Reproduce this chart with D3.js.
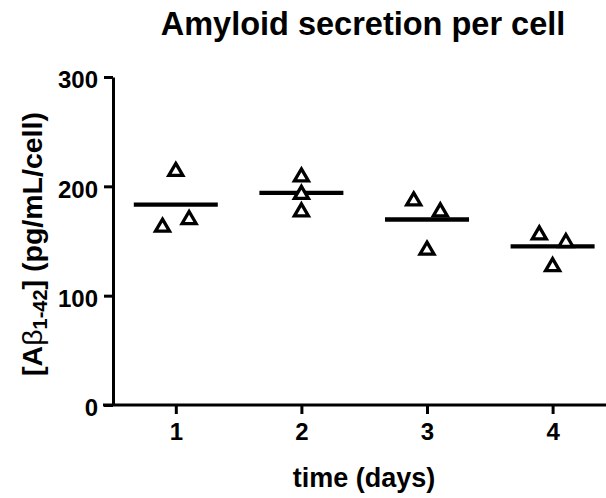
<!DOCTYPE html>
<html>
<head>
<meta charset="utf-8">
<script src="https://cdn.jsdelivr.net/npm/d3@7"></script>
<style>
  body { margin: 0; background: #fff; }
  text { font-family: "Liberation Sans", Arial, sans-serif; font-weight: bold; fill: #000; }
</style>
</head>
<body>
<div id="chart-area"></div>
<script>
// data
var days = [1, 2, 3, 4];
var day1 = [215, 164, 171];
var day2 = [210, 194, 178];
var day3 = [188, 178, 143];
var day4 = [157, 150, 128];
// horizontal spread of the points in each column (GraphPad style scatter)
var spread = [[0, -1, 1], [0, 0, 0], [-1, 1, 0], [-1, 1, 0]];
var yTicks = [0, 100, 200, 300];

var width = 606, height = 498;
var margin = { left: 113, top: 77, bottom: 93 };

var svg = d3.select("#chart-area")
    .append("svg")
        .attr("width", width)
        .attr("height", height);

// Scales
var x = d3.scaleLinear()
    .domain([0.5, 4.5])
    .range([margin.left, margin.left + 4 * 125.6]);
var y = d3.scaleLinear()
    .domain([0, 300])
    .range([height - margin.bottom, margin.top]);

var series = [day1, day2, day3, day4];
var points = [];
series.forEach(function(vals, i) {
    vals.forEach(function(v, j) {
        points.push({ day: days[i], value: v, off: spread[i][j] });
    });
});

// X Axis
var xAxis = svg.append("g")
    .attr("transform", "translate(0," + y(0) + ")")
    .call(d3.axisBottom(x).tickValues(days).tickFormat(d3.format("d"))
        .tickSize(9).tickPadding(9).tickSizeOuter(0));
xAxis.select(".domain").attr("d", "M" + (margin.left - 10) + ",0H" + x(4.5))
    .attr("stroke-width", 3);
xAxis.selectAll(".tick line").attr("stroke-width", 3);
xAxis.selectAll(".tick text").attr("font-size", "24px");

// Y Axis
var yAxis = svg.append("g")
    .attr("transform", "translate(" + margin.left + ",0)")
    .call(d3.axisLeft(y).tickValues(yTicks).tickSize(9).tickPadding(6).tickSizeOuter(0));
yAxis.select(".domain").attr("stroke-width", 3);
yAxis.selectAll(".tick line").attr("stroke-width", 3);
yAxis.selectAll(".tick text").attr("font-size", "24px").attr("dy", "0.45em");

// mean lines
svg.selectAll(".mean")
    .data(series)
    .enter().append("line")
        .attr("class", "mean")
        .attr("x1", function(d, i) { return x(days[i]) - 42; })
        .attr("x2", function(d, i) { return x(days[i]) + 42; })
        .attr("y1", function(d) { return y(d3.mean(d)); })
        .attr("y2", function(d) { return y(d3.mean(d)); })
        .attr("stroke", "#000")
        .attr("stroke-width", 4.3);

// open triangles
svg.selectAll(".pt")
    .data(points)
    .enter().append("path")
        .attr("class", "pt")
        .attr("d", "M0,-6.5L7,5.5L-7,5.5Z")
        .attr("transform", function(d) {
            return "translate(" + (x(d.day) + d.off * 13.3) + "," + y(d.value) + ")";
        })
        .attr("fill", "#fff")
        .attr("stroke", "#000")
        .attr("stroke-width", 3.3);

// Labels
svg.append("text")
    .attr("x", 363)
    .attr("y", 35)
    .attr("font-size", "32.5px")
    .attr("text-anchor", "middle")
    .text("Amyloid secretion per cell");

svg.append("text")
    .attr("x", 364)
    .attr("y", 487)
    .attr("font-size", "27px")
    .attr("text-anchor", "middle")
    .text("time (days)");

var yLabel = svg.append("text")
    .attr("transform", "translate(42,244) rotate(-90)")
    .attr("font-size", "28.5px")
    .attr("text-anchor", "middle");
yLabel.append("tspan").text("[A");
yLabel.append("tspan").attr("font-weight", "normal").text("\u03B2");
yLabel.append("tspan").attr("font-size", "20px").attr("dy", "5").text("1-42");
yLabel.append("tspan").attr("dy", "-5").text("] (pg/mL/cell)");
</script>
</body>
</html>
